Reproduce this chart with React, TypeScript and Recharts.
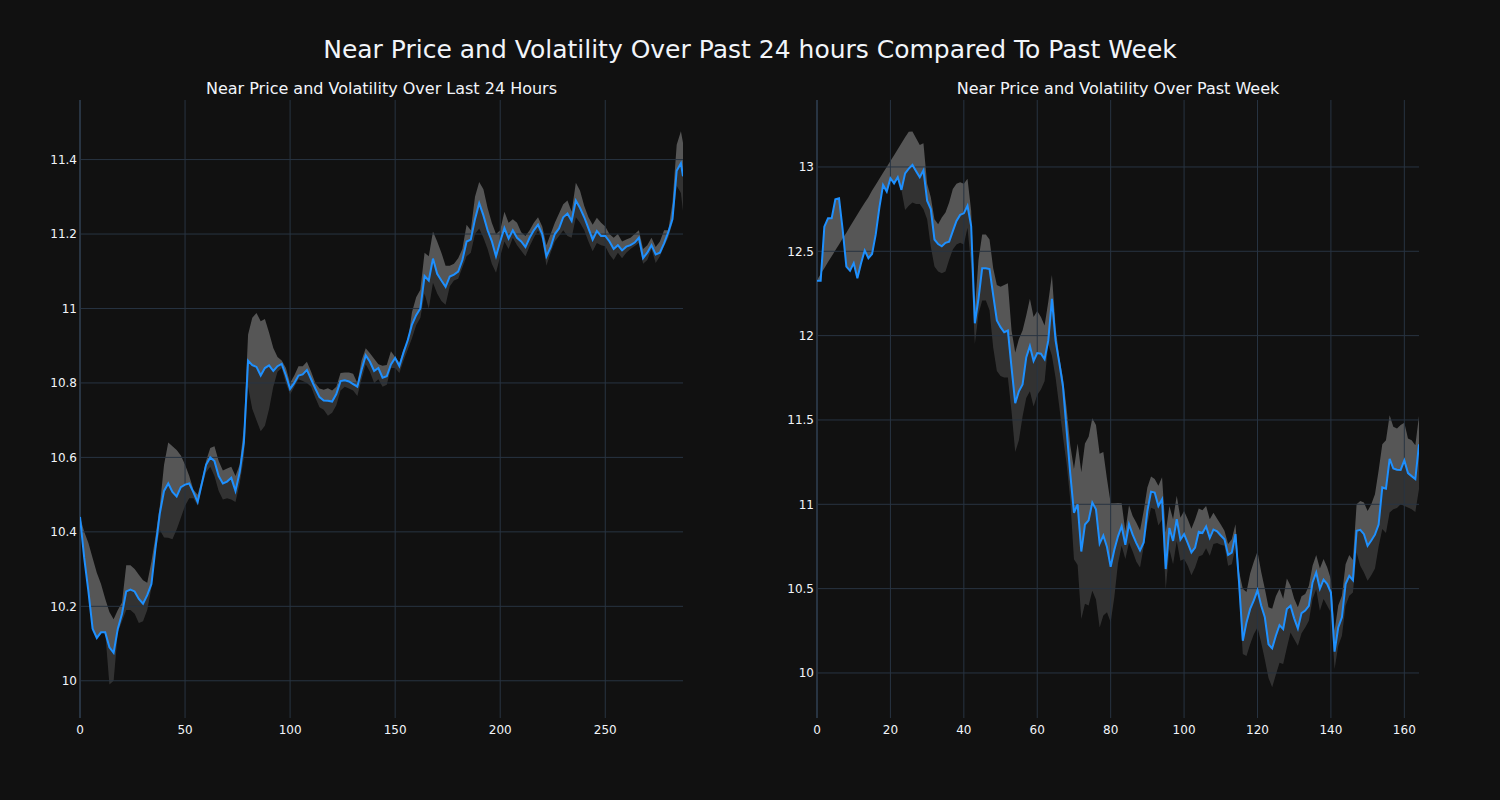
import {
  Area,
  ComposedChart,
  Line,
  ReferenceLine,
  XAxis,
  YAxis,
} from "recharts";

// ---- last 24 hours (5 min steps, sampled every other step) ----
const dayX = [
  0, 2, 4, 6, 8, 10, 12, 14, 16, 18, 20, 22, 24, 26, 28, 30, 32, 34, 36, 38,
  40, 42, 44, 46, 48, 50, 52, 54, 56, 58, 60, 62, 64, 66, 68, 70, 72, 74, 76, 78,
  80, 82, 84, 86, 88, 90, 92, 94, 96, 98, 100, 102, 104, 106, 108, 110, 112, 114, 116, 118,
  120, 122, 124, 126, 128, 130, 132, 134, 136, 138, 140, 142, 144, 146, 148, 150, 152, 154, 156, 158,
  160, 162, 164, 166, 168, 170, 172, 174, 176, 178, 180, 182, 184, 186, 188, 190, 192, 194, 196, 198,
  200, 202, 204, 206, 208, 210, 212, 214, 216, 218, 220, 222, 224, 226, 228, 230, 232, 234, 236, 238,
  240, 242, 244, 246, 248, 250, 252, 254, 256, 258, 260, 262, 264, 266, 268, 270, 272, 274, 276, 278,
  280, 282, 284, 286, 287,
];
const dayPrice = [
  10.44, 10.33, 10.24, 10.14, 10.115, 10.13, 10.13, 10.09, 10.075, 10.14,
  10.18, 10.24, 10.245, 10.24, 10.22, 10.207, 10.23, 10.26, 10.36, 10.45,
  10.51, 10.53, 10.507, 10.495, 10.52, 10.527, 10.53, 10.506, 10.48, 10.53,
  10.58, 10.6, 10.59, 10.55, 10.53, 10.535, 10.545, 10.51, 10.56, 10.64,
  10.86, 10.848, 10.843, 10.82, 10.84, 10.847, 10.832, 10.845, 10.851, 10.82,
  10.784, 10.8, 10.82, 10.823, 10.835, 10.81, 10.785, 10.762, 10.753, 10.752,
  10.75, 10.77, 10.805, 10.807, 10.804, 10.797, 10.79, 10.835, 10.874, 10.857,
  10.832, 10.84, 10.814, 10.818, 10.85, 10.867, 10.845, 10.882, 10.915, 10.957,
  10.982, 11.0, 11.087, 11.075, 11.134, 11.093, 11.075, 11.058, 11.086, 11.091,
  11.099, 11.13, 11.18, 11.185, 11.24, 11.283, 11.25, 11.21, 11.181, 11.14,
  11.18, 11.216, 11.188, 11.21, 11.19, 11.18, 11.165, 11.19, 11.21, 11.225,
  11.2, 11.14, 11.165, 11.2, 11.215, 11.245, 11.255, 11.235, 11.29, 11.27,
  11.245, 11.215, 11.185, 11.208, 11.195, 11.195, 11.18, 11.16, 11.17, 11.156,
  11.166, 11.17, 11.177, 11.19, 11.135, 11.15, 11.17, 11.145, 11.15, 11.175,
  11.205, 11.24, 11.37, 11.39, 11.355,
];
const dayUpper = [
  10.44, 10.4, 10.37, 10.33, 10.29, 10.26, 10.22, 10.185, 10.165, 10.19,
  10.21, 10.31, 10.31, 10.3, 10.285, 10.27, 10.263, 10.32, 10.39, 10.47,
  10.58, 10.64, 10.63, 10.62, 10.605, 10.58, 10.55, 10.513, 10.5, 10.54,
  10.59, 10.625, 10.63, 10.59, 10.565, 10.57, 10.575, 10.55, 10.58, 10.68,
  10.93, 10.975, 10.988, 10.966, 10.972, 10.935, 10.894, 10.87, 10.86, 10.84,
  10.8, 10.82, 10.845, 10.845, 10.857, 10.83, 10.8, 10.785, 10.782, 10.786,
  10.78, 10.79, 10.827, 10.828, 10.828, 10.825, 10.8, 10.86, 10.893, 10.88,
  10.865, 10.85, 10.846, 10.848, 10.885, 10.87, 10.855, 10.89, 10.91, 10.99,
  11.03, 11.05, 11.15, 11.14, 11.207, 11.18, 11.15, 11.115, 11.115, 11.12,
  11.135, 11.16, 11.225, 11.21, 11.3, 11.34, 11.32, 11.27, 11.23, 11.2,
  11.21, 11.26, 11.23, 11.24, 11.23, 11.205, 11.195, 11.21, 11.23, 11.245,
  11.22, 11.17, 11.2, 11.23, 11.255, 11.28, 11.29, 11.26, 11.338, 11.316,
  11.275, 11.245, 11.225, 11.244, 11.23, 11.22, 11.2, 11.19, 11.2, 11.18,
  11.185, 11.19, 11.2, 11.21, 11.16, 11.17, 11.19, 11.165, 11.18, 11.21,
  11.21, 11.284, 11.44, 11.476, 11.445,
];
const dayLower = [
  10.44, 10.33, 10.24, 10.14, 10.115, 10.13, 10.13, 9.99, 10.0, 10.13,
  10.16, 10.19, 10.19, 10.18, 10.155, 10.16, 10.19, 10.25, 10.35, 10.405,
  10.385, 10.384, 10.38, 10.406, 10.438, 10.47, 10.49, 10.49, 10.47, 10.52,
  10.56, 10.575, 10.55, 10.51, 10.487, 10.49, 10.487, 10.48, 10.53, 10.6,
  10.79, 10.73, 10.7, 10.67, 10.685, 10.73, 10.79, 10.83, 10.84, 10.8,
  10.769, 10.79, 10.81, 10.805, 10.8, 10.79, 10.76, 10.735, 10.728, 10.712,
  10.72, 10.74, 10.78, 10.79, 10.785, 10.78, 10.765, 10.81, 10.85, 10.83,
  10.8, 10.81, 10.79, 10.795, 10.84, 10.84, 10.827, 10.86, 10.89, 10.92,
  10.955, 10.975, 11.04, 11.0, 11.069, 11.04, 11.02, 11.01, 11.06, 11.075,
  11.08, 11.11, 11.14, 11.15, 11.2, 11.215, 11.19, 11.16, 11.12, 11.096,
  11.14, 11.18, 11.16, 11.19, 11.17, 11.155, 11.14, 11.167, 11.19, 11.21,
  11.185, 11.115, 11.15, 11.18, 11.195, 11.21, 11.195, 11.19, 11.245, 11.23,
  11.21, 11.18, 11.154, 11.176, 11.17, 11.167, 11.145, 11.13, 11.15, 11.135,
  11.15, 11.16, 11.168, 11.176, 11.12, 11.13, 11.16, 11.122, 11.14, 11.167,
  11.19, 11.23, 11.33, 11.31, 11.262,
];

// ---- past week (hourly) ----
const weekX = [
  0, 1, 2, 3, 4, 5, 6, 7, 8, 9, 10, 11, 12, 13, 14, 15, 16, 17, 18, 19,
  20, 21, 22, 23, 24, 25, 26, 27, 28, 29, 30, 31, 32, 33, 34, 35, 36, 37, 38, 39,
  40, 41, 42, 43, 44, 45, 46, 47, 48, 49, 50, 51, 52, 53, 54, 55, 56, 57, 58, 59,
  60, 61, 62, 63, 64, 65, 66, 67, 68, 69, 70, 71, 72, 73, 74, 75, 76, 77, 78, 79,
  80, 81, 82, 83, 84, 85, 86, 87, 88, 89, 90, 91, 92, 93, 94, 95, 96, 97, 98, 99,
  100, 101, 102, 103, 104, 105, 106, 107, 108, 109, 110, 111, 112, 113, 114, 115, 116, 117, 118, 119,
  120, 121, 122, 123, 124, 125, 126, 127, 128, 129, 130, 131, 132, 133, 134, 135, 136, 137, 138, 139,
  140, 141, 142, 143, 144, 145, 146, 147, 148, 149, 150, 151, 152, 153, 154, 155, 156, 157, 158, 159,
  160, 161, 162, 163, 164,
];
const weekPrice = [
  12.326, 12.326, 12.646, 12.696, 12.696, 12.808, 12.814, 12.627, 12.409, 12.385,
  12.43, 12.34, 12.429, 12.505, 12.459, 12.484, 12.6, 12.76, 12.893, 12.854,
  12.933, 12.903, 12.939, 12.864, 12.962, 12.99, 13.012, 12.975, 12.939, 12.98,
  12.8, 12.75, 12.57, 12.543, 12.53, 12.55, 12.557, 12.62, 12.68, 12.716,
  12.725, 12.77, 12.65, 12.073, 12.22, 12.4, 12.4, 12.395, 12.24, 12.09,
  12.05, 12.02, 12.03, 11.81, 11.6, 11.67, 11.71, 11.87, 11.939, 11.85,
  11.897, 11.893, 11.86, 11.97, 12.218, 11.97, 11.84, 11.7, 11.44, 11.18,
  10.95, 11.0, 10.72, 10.88, 10.905, 11.01, 10.97, 10.767, 10.815, 10.747,
  10.63, 10.73, 10.81, 10.87, 10.76, 10.882, 10.82, 10.77, 10.726, 10.774,
  10.96, 11.075, 11.07, 10.99, 11.03, 10.616, 10.86, 10.783, 10.912, 10.79,
  10.823, 10.77, 10.715, 10.744, 10.837, 10.83, 10.868, 10.8, 10.85, 10.84,
  10.815, 10.793, 10.7, 10.714, 10.823, 10.53, 10.191, 10.3, 10.38, 10.43,
  10.49, 10.4, 10.33, 10.17, 10.146, 10.221, 10.284, 10.26, 10.379, 10.398,
  10.324, 10.264, 10.355, 10.37, 10.398, 10.537, 10.596, 10.5, 10.553, 10.527,
  10.477, 10.126, 10.27, 10.33, 10.527, 10.576, 10.55, 10.843, 10.849, 10.823,
  10.754, 10.785, 10.82, 10.88, 11.1, 11.093, 11.27, 11.212, 11.205, 11.204,
  11.26, 11.185, 11.167, 11.15, 11.356,
];
const weekUpper = [
  12.33, 12.365, 12.4, 12.436, 12.47, 12.506, 12.54, 12.577, 12.61, 12.647,
  12.683, 12.718, 12.753, 12.788, 12.82, 12.86, 12.894, 12.93, 12.965, 13.0,
  13.035, 13.07, 13.105, 13.14, 13.176, 13.209, 13.21, 13.17, 13.13, 13.14,
  12.9, 12.82, 12.69, 12.66, 12.7, 12.73, 12.79, 12.87, 12.9, 12.91,
  12.9, 12.93, 12.74, 12.15, 12.45, 12.6, 12.6, 12.57, 12.4, 12.3,
  12.29, 12.3, 12.31, 12.03, 11.9, 11.98, 12.03, 12.12, 12.218, 12.11,
  12.146, 12.11, 12.06, 12.2, 12.36, 12.05, 11.87, 11.75, 11.57, 11.35,
  11.21, 11.36, 11.19, 11.36, 11.4, 11.51, 11.47, 11.3, 11.31, 11.15,
  11.006, 11.006, 11.007, 11.006, 10.84, 10.995, 10.93, 10.89, 10.845, 10.96,
  11.1, 11.165, 11.15, 11.11, 11.16, 10.833, 10.99, 10.912, 11.05, 10.92,
  10.96, 10.912, 10.855, 10.91, 10.975, 10.965, 10.99, 10.912, 10.95, 10.915,
  10.88, 10.843, 10.764, 10.793, 10.882, 10.6, 10.5, 10.48, 10.59, 10.66,
  10.72, 10.6, 10.5, 10.39, 10.38, 10.455, 10.5, 10.44, 10.56, 10.517,
  10.44, 10.39, 10.455, 10.468, 10.517, 10.636, 10.7, 10.62, 10.675, 10.626,
  10.556, 10.25, 10.4, 10.458, 10.645, 10.7, 10.67, 11.0, 11.02, 11.01,
  10.96, 11.0, 11.06, 11.2, 11.356, 11.38, 11.528, 11.46, 11.45, 11.47,
  11.484, 11.39, 11.38, 11.35, 11.524,
];
const weekLower = [
  12.326, 12.326, 12.646, 12.696, 12.696, 12.808, 12.814, 12.627, 12.409, 12.385,
  12.43, 12.34, 12.429, 12.505, 12.459, 12.484, 12.6, 12.76, 12.893, 12.854,
  12.933, 12.903, 12.939, 12.864, 12.745, 12.77, 12.79, 12.78, 12.78, 12.75,
  12.69, 12.527, 12.41, 12.38, 12.37, 12.38, 12.45, 12.51, 12.54, 12.55,
  12.54, 12.64, 12.415, 11.95, 12.13, 12.208, 12.208, 12.15, 11.93, 11.79,
  11.76, 11.752, 11.752, 11.55, 11.31, 11.38, 11.52, 11.63, 11.67, 11.58,
  11.648, 11.68, 11.73, 11.95, 11.88, 11.75, 11.58, 11.4, 11.24, 11.027,
  10.674, 10.64, 10.32, 10.41, 10.4, 10.487, 10.436, 10.27, 10.34, 10.36,
  10.3, 10.45, 10.65, 10.754, 10.675, 10.774, 10.72, 10.66, 10.626, 10.75,
  10.88, 10.98, 10.97, 10.875, 10.91, 10.497, 10.734, 10.645, 10.783, 10.665,
  10.675, 10.636, 10.58, 10.626, 10.69, 10.7, 10.74, 10.695, 10.765, 10.77,
  10.76, 10.754, 10.636, 10.645, 10.744, 10.458, 10.112, 10.1, 10.17, 10.23,
  10.27, 10.18, 10.08, 9.97, 9.915, 9.99, 10.06, 10.053, 10.15, 10.24,
  10.2, 10.162, 10.235, 10.27, 10.31, 10.438, 10.497, 10.369, 10.438, 10.398,
  10.359, 10.023, 10.162, 10.22, 10.398, 10.458, 10.477, 10.714, 10.636, 10.596,
  10.547, 10.58, 10.62, 10.75, 10.853, 10.83, 10.951, 10.971, 10.978, 11.0,
  10.99, 10.981, 10.971, 10.955, 11.09,
];

const dayXTicks = [0, 50, 100, 150, 200, 250];
const dayYTicks = [10, 10.2, 10.4, 10.6, 10.8, 11, 11.2, 11.4];
const weekXTicks = [0, 20, 40, 60, 80, 100, 120, 140, 160];
const weekYTicks = [10, 10.5, 11, 11.5, 12, 12.5, 13];

const FONT = "'DejaVu Sans', Verdana, sans-serif";
const TEXT = "#f2f5fa";
const GRID = "#283442";
const BLUE = "#1e90ff";

function buildRows(xs: number[], price: number[], upper: number[], lower: number[]) {
  return xs.map((x, i) => ({
    x,
    price: price[i],
    upBand: [price[i], upper[i]],
    lowBand: [lower[i], price[i]],
  }));
}

const dayRows = buildRows(dayX, dayPrice, dayUpper, dayLower);
const weekRows = buildRows(weekX, weekPrice, weekUpper, weekLower);

const fmt = (v: number) => String(Number(v.toFixed(1)));

type PanelProps = {
  rows: ReturnType<typeof buildRows>;
  left: number;
  rightMargin: number;
  xDomain: [number, number];
  xTicks: number[];
  yDomain: [number, number];
  yTicks: number[];
};

function Panel({ rows, left, rightMargin, xDomain, xTicks, yDomain, yTicks }: PanelProps) {
  const tick = { fill: TEXT, fontSize: 12, fontFamily: FONT };
  return (
    <div style={{ position: "absolute", left, top: 0 }}>
      <ComposedChart
        width={700}
        height={800}
        data={rows}
        margin={{ top: 100, right: rightMargin, bottom: 52, left: 20 }}
      >
        <XAxis
          type="number"
          dataKey="x"
          domain={xDomain}
          ticks={xTicks}
          interval={0}
          allowDataOverflow
          axisLine={false}
          tickLine={false}
          tickSize={5}
          tickMargin={2}
          height={30}
          tick={tick}
        />
        <YAxis
          type="number"
          domain={yDomain}
          ticks={yTicks}
          interval={0}
          allowDataOverflow
          axisLine={false}
          tickLine={false}
          tickSize={2}
          tickMargin={1}
          width={60}
          tick={tick}
          tickFormatter={fmt}
        />
        {/* grid lines at the ticks only, like the original */}
        {yTicks.map((t) => (
          <ReferenceLine key={`y${t}`} y={t} stroke={GRID} strokeWidth={1} />
        ))}
        {xTicks.map((t) => (
          <ReferenceLine
            key={`x${t}`}
            x={t}
            stroke={GRID}
            strokeWidth={t === 0 ? 2 : 1}
          />
        ))}
        <Area
          type="linear"
          dataKey="upBand"
          stroke="none"
          fill="#ffffff"
          fillOpacity={0.29}
          isAnimationActive={false}
        />
        <Area
          type="linear"
          dataKey="lowBand"
          stroke="none"
          fill="#ffffff"
          fillOpacity={0.14}
          isAnimationActive={false}
        />
        <Line
          type="linear"
          dataKey="price"
          stroke={BLUE}
          strokeWidth={2}
          dot={false}
          activeDot={false}
          isAnimationActive={false}
        />
      </ComposedChart>
    </div>
  );
}

export default function App() {
  return (
    <div
      style={{
        position: "absolute",
        left: 0,
        top: 0,
        width: 1500,
        height: 800,
        background: "#111111",
        fontFamily: FONT,
        color: TEXT,
        overflow: "hidden",
      }}
    >
      <div
        style={{
          position: "absolute",
          top: 37,
          left: 0,
          width: 1500,
          textAlign: "center",
          fontSize: 25,
          lineHeight: "25px",
        }}
      >
        Near Price and Volatility Over Past 24 hours Compared To Past Week
      </div>
      <div
        style={{
          position: "absolute",
          top: 81,
          left: 80,
          width: 603,
          textAlign: "center",
          fontSize: 16,
          lineHeight: "16px",
        }}
      >
        Near Price and Volatility Over Last 24 Hours
      </div>
      <div
        style={{
          position: "absolute",
          top: 81,
          left: 817,
          width: 602,
          textAlign: "center",
          fontSize: 16,
          lineHeight: "16px",
        }}
      >
        Near Price and Volatility Over Past Week
      </div>
      <Panel
        rows={dayRows}
        left={0}
        rightMargin={17}
        xDomain={[0, 287]}
        xTicks={dayXTicks}
        yDomain={[9.9, 11.56]}
        yTicks={dayYTicks}
      />
      <Panel
        rows={weekRows}
        left={737}
        rightMargin={18}
        xDomain={[0, 164]}
        xTicks={weekXTicks}
        yDomain={[9.733, 13.397]}
        yTicks={weekYTicks}
      />
    </div>
  );
}
